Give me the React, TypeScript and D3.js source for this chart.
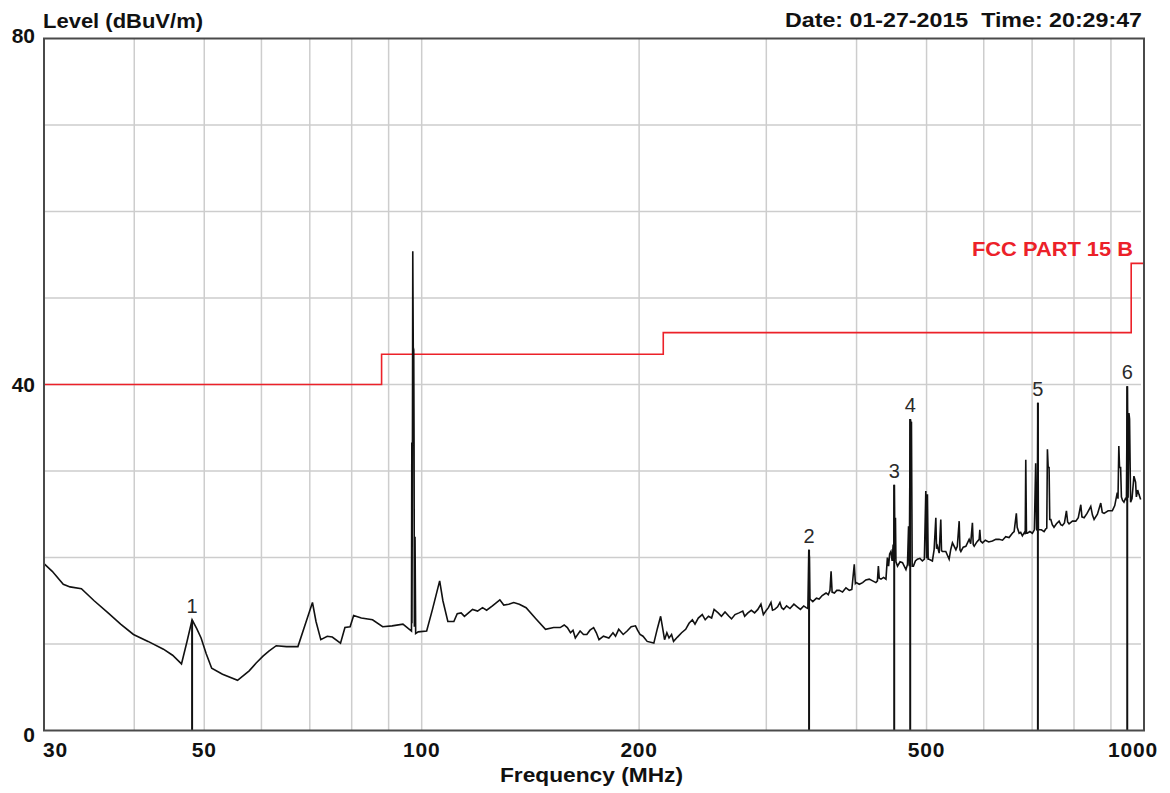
import React from "react";
import * as d3 from "d3";

// Measured spectrum: [frequency MHz, level dBuV/m]
const trace: [number, number][] = [
  [30, 19.3], [30.8, 18.4], [31.9, 16.9], [32.6, 16.6], [33.8, 16.4], [35.2, 15.0], [36.8, 13.6],
  [38.3, 12.3], [39.9, 11.1], [41.8, 10.3], [43.9, 9.4], [45.2, 8.7], [46.5, 7.7], [47.3, 10.2],
  [48.1, 12.8], [48.8, 11.8], [49.5, 10.7], [50.3, 8.9], [51.2, 7.2], [53.0, 6.5], [55.6, 5.8],
  [57.7, 6.9], [59.0, 7.8], [60.3, 8.6], [61.5, 9.2], [62.9, 9.8], [65.0, 9.7], [67.4, 9.7],
  [69.2, 12.6], [70.6, 14.8], [71.4, 12.6], [72.5, 10.5], [74.0, 10.9], [75.2, 10.8], [77.2, 10.1],
  [78.3, 11.9], [79.6, 12.0], [80.5, 13.3], [82.5, 13.0], [85.5, 12.8], [88.3, 12.0], [91.0, 12.1],
  [94.2, 12.3], [96.8, 11.5], [96.9, 33.3], [96.95, 12.4], [97.1, 33.0], [97.2, 55.4],
  [97.35, 44.3], [97.5, 44.0], [97.6, 33.4], [97.7, 12.0], [97.9, 22.4], [98.1, 11.2],
  [98.9, 11.4], [101.6, 11.5], [103.5, 14.0], [105.9, 17.3], [107.0, 15.0],
  [108.7, 12.6], [110.8, 12.6], [112.0, 13.5], [113.4, 13.6], [114.6, 13.2], [117.6, 14.0],
  [119.5, 13.8], [121.4, 14.2], [123.0, 13.9], [125.3, 14.4], [128.3, 15.1], [129.9, 14.5],
  [132.0, 14.6], [134.1, 14.8], [136.5, 14.6], [139.5, 14.2], [144.0, 12.9], [148.4, 11.7],
  [152.3, 11.9], [155.5, 11.9], [157.5, 12.2], [159.1, 11.9], [160.7, 11.3], [162.0, 11.6],
  [163.2, 10.7], [165.7, 11.5], [167.5, 11.1], [169.3, 11.1], [171.0, 11.6], [173.0, 11.9],
  [174.5, 11.3], [176.0, 10.5], [178.5, 10.9], [181.6, 10.7], [184.0, 11.3], [185.5, 10.9],
  [187.4, 11.7], [190.1, 11.1], [192.5, 11.5], [195.0, 12.0], [197.7, 12.1], [199.0, 11.6],
  [200.6, 11.1], [202.5, 10.9], [205.2, 10.3], [209.6, 10.1], [212.0, 11.8], [214.2, 13.2],
  [215.6, 11.8], [216.9, 10.5], [218.5, 11.3], [220.0, 10.7], [221.8, 11.1], [223.2, 10.3],
  [226.0, 10.8], [229.0, 11.3], [232.0, 11.7], [234.5, 12.4], [237.0, 12.8], [239.0, 12.3],
  [241.5, 13.0], [244.6, 13.4], [246.9, 12.8], [249.5, 13.2], [252.0, 13.0], [254.0, 14.0],
  [257.3, 13.6], [260.0, 13.2], [263.0, 13.7], [266.3, 13.2], [268.5, 12.9], [271.5, 13.4],
  [275.0, 13.6], [278.3, 13.8], [280.0, 13.2], [282.9, 13.6], [286.0, 13.9], [289.0, 13.6],
  [292.0, 14.0], [294.9, 14.6], [297.2, 13.4], [300.0, 13.9], [302.0, 14.2], [304.5, 14.8],
  [306.0, 13.9], [308.1, 14.0], [311.0, 14.3], [313.3, 14.8], [315.0, 14.2], [317.0, 14.0],
  [320.0, 14.4], [323.5, 14.1], [327.6, 14.6], [331.0, 14.3], [334.5, 14.0], [338.0, 14.4],
  [340.6, 14.2], [342.5, 14.1], [343.5, 20.9], [344.2, 20.0], [344.8, 15.2], [347.9, 14.9],
  [352.0, 15.3], [355.0, 15.2], [358.5, 15.6], [362.9, 15.9], [365.5, 15.7], [367.5, 16.2],
  [368.8, 18.4], [370.0, 16.0], [372.7, 15.9], [375.5, 16.2], [378.6, 16.2], [382.5, 16.0],
  [386.7, 16.5], [390.9, 16.2], [394.0, 16.3], [397.1, 19.2], [398.5, 17.0], [399.4, 17.1],
  [403.5, 16.9], [407.8, 17.1], [412.0, 17.4], [416.5, 17.5], [421.0, 17.3], [425.4, 17.1],
  [427.5, 17.3], [428.8, 19.0], [430.0, 17.6], [432.4, 17.5], [436.0, 17.7], [439.3, 17.5],
  [441.3, 20.0], [443.0, 19.0], [444.5, 20.4], [446.3, 20.7], [448.0, 19.6], [449.5, 21.5],
  [450.3, 19.6], [451.0, 28.4], [452.0, 19.8], [452.8, 24.6], [453.5, 19.5], [455.8, 19.0],
  [459.5, 19.5], [463.1, 19.4], [468.2, 18.6], [470.5, 19.2], [472.1, 23.6], [473.2, 19.0],
  [474.6, 36.0], [475.6, 35.6], [476.5, 35.6], [477.6, 19.0], [479.5, 19.0], [482.5, 19.6],
  [485.6, 19.8], [489.5, 19.9], [493.4, 19.6], [496.5, 19.8], [498.8, 27.7], [500.1, 19.9],
  [501.4, 27.3], [502.6, 19.8], [504.1, 19.8], [509.4, 19.6], [512.2, 20.9], [515.0, 24.6],
  [516.2, 21.0], [517.7, 21.3], [520.5, 20.5], [523.2, 24.4], [524.4, 20.8], [525.9, 20.7],
  [531.6, 20.7], [537.3, 19.8], [540.0, 20.9], [543.0, 21.7], [549.0, 20.9], [551.5, 21.3],
  [554.8, 24.2], [556.2, 20.9], [557.8, 20.7], [562.0, 21.2], [566.7, 21.3], [572.7, 22.1],
  [575.5, 21.6], [578.7, 24.0], [580.2, 21.5], [582.0, 21.3], [587.0, 21.8], [591.3, 22.1],
  [592.5, 23.2], [594.0, 21.9], [597.6, 21.7], [603.0, 22.0], [609.5, 21.8], [616.8, 21.9],
  [623.5, 22.1], [630.0, 22.1], [637.0, 22.0], [643.5, 22.4], [650.4, 22.3], [657.3, 22.8],
  [661.0, 23.0], [665.7, 25.1], [667.5, 23.5], [671.7, 22.8], [675.0, 22.9], [678.6, 22.5],
  [683.0, 22.9], [684.8, 22.7], [686.0, 31.3], [687.5, 22.8], [689.4, 22.8], [695.0, 23.0],
  [700.5, 22.8], [705.0, 23.2], [708.0, 30.9], [710.0, 23.3], [711.8, 23.1], [713.0, 37.9],
  [714.2, 23.3], [715.5, 23.2], [721.0, 23.2], [727.2, 23.0], [731.0, 23.3], [733.5, 23.4],
  [735.0, 32.5], [736.8, 30.4], [738.9, 30.4], [740.5, 24.4], [743.1, 24.4], [746.5, 23.8],
  [750.6, 23.5], [756.5, 23.9], [762.9, 24.2], [767.0, 23.8], [771.0, 23.7], [776.0, 24.0],
  [780.9, 25.4], [784.0, 24.1], [787.5, 23.9], [796.0, 24.2], [804.6, 24.2], [811.0, 24.6],
  [817.5, 26.1], [820.5, 24.7], [826.2, 24.6], [834.0, 25.1], [843.9, 25.9], [848.5, 24.9],
  [852.9, 24.4], [862.0, 25.0], [871.2, 26.3], [875.5, 25.2], [880.5, 25.1], [892.0, 25.4],
  [903.9, 25.4], [911.0, 26.0], [918.3, 27.5], [920.5, 26.8], [922.9, 32.9], [925.0, 30.4],
  [928.2, 30.4], [930.5, 27.0], [934.0, 26.6], [938.1, 26.4], [942.5, 26.8], [945.5, 26.7],
  [948.0, 39.8], [950.5, 26.9], [953.1, 36.7], [955.0, 36.0], [958.2, 26.4], [962.5, 26.8],
  [968.4, 29.4], [973.5, 28.7], [976.0, 27.0], [980.0, 27.8], [984.0, 27.3], [989.4, 26.7],
];

// Peak markers: [frequency MHz, level dBuV/m]
const markers: [number, number][] = [
  [48.1, 12.8], [343.8, 20.9], [451.0, 28.4], [474.6, 36.0], [713.0, 37.9], [948.0, 39.8],
];

// FCC Part 15 Class B limit: band edges (MHz) and levels (dBuV/m)
const limitEdges = [30, 88, 216, 960, 1000];
const limitLevels = [40, 43.5, 46, 54];

const xGrid = [40, 50, 60, 70, 80, 90, 100, 200, 300, 400, 500, 600, 700, 800, 900];
const yGrid = [10, 20, 30, 40, 50, 60, 70];
const xTickLabels = [30, 50, 100, 200, 500, 1000];
const yTickLabels = [0, 40, 80];

const W = 1170;
const H = 793;
const left = 44;
const right = 1144;
const top = 38.5;
const bottom = 730.5;

const boldFont = "'Liberation Sans', Arial, sans-serif";

export default function App() {
  const x = d3.scaleLog().domain([30, 1000]).range([left, right]);
  const y = d3.scaleLinear().domain([0, 80]).range([bottom, top]);

  const tracePath = d3
    .line<[number, number]>()
    .x((d) => x(d[0]))
    .y((d) => y(d[1]))(trace) as string;

  const limitPts: [number, number][] = limitLevels.map((lv, i) => [limitEdges[i], lv]);
  limitPts.push([limitEdges[limitEdges.length - 1], limitLevels[limitLevels.length - 1]]);
  const limitPath = d3
    .line<[number, number]>()
    .x((d) => x(d[0]))
    .y((d) => y(d[1]))
    .curve(d3.curveStepAfter)(limitPts) as string;

  return (
    <div style={{ position: "absolute", left: 0, top: 0 }}>
      <svg width={W} height={H} style={{ display: "block", background: "#fff" }}>
        {/* grid */}
        <g stroke="#cdcdcd" strokeWidth={1.5}>
          {xGrid.map((f) => (
            <line key={"gx" + f} x1={x(f)} x2={x(f)} y1={top} y2={bottom} />
          ))}
          {yGrid.map((v) => (
            <line key={"gy" + v} x1={left} x2={right - 3} y1={y(v)} y2={y(v)} />
          ))}
        </g>

        {/* limit line */}
        <path d={limitPath} fill="none" stroke="#ec2129" strokeWidth={1.6} />

        {/* marker stems */}
        <g stroke="#111" strokeWidth={2}>
          {markers.map(([f, v], i) => (
            <line key={"m" + i} x1={x(f)} x2={x(f)} y1={bottom} y2={y(v)} />
          ))}
        </g>

        {/* spectrum trace */}
        <path d={tracePath} fill="none" stroke="#111" strokeWidth={1.6} strokeLinejoin="miter" />

        {/* marker numbers */}
        <g fontFamily={boldFont} fontSize={20} fill="#2a2a2a" textAnchor="middle">
          {markers.map(([f, v], i) => (
            <text key={"ml" + i} x={x(f)} y={y(v) - 7}>
              {i + 1}
            </text>
          ))}
        </g>

        {/* frame */}
        <rect
          x={left}
          y={top}
          width={right - left}
          height={bottom - top}
          fill="none"
          stroke="#4a4a4a"
          strokeWidth={2}
        />

        {/* y tick labels */}
        <g fontFamily={boldFont} fontWeight="bold" fontSize={21} fill="#111" textAnchor="end">
          {yTickLabels.map((v, i) => {
            const dy = i === 0 ? 11.5 : i === yTickLabels.length - 1 ? 4.5 : 7.5;
            return (
              <text key={"yl" + v} x={35} y={y(v) + dy}>
                {v}
              </text>
            );
          })}
        </g>

        {/* x tick labels */}
        <g fontFamily={boldFont} fontWeight="bold" fontSize={21} fill="#111">
          {xTickLabels.map((f, i) => {
            const first = i === 0;
            const last = i === xTickLabels.length - 1;
            const anchor = first ? "start" : last ? "end" : "middle";
            const px = first ? x(f) - 1 : last ? x(f) + 14 : x(f);
            return (
              <text key={"xl" + f} x={px} y={757} textAnchor={anchor} letterSpacing={0.8}>
                {f}
              </text>
            );
          })}
        </g>

        {/* titles */}
        <g fontFamily={boldFont} fontWeight="bold" fontSize={21} fill="#111">
          <text x={43} y={28} textLength={160} lengthAdjust="spacingAndGlyphs">
            Level (dBuV/m)
          </text>
          <text x={785} y={27} textLength={357} lengthAdjust="spacingAndGlyphs" xmlSpace="preserve">
            Date: 01-27-2015  Time: 20:29:47
          </text>
          <text x={500} y={782} textLength={183} lengthAdjust="spacingAndGlyphs">
            Frequency (MHz)
          </text>
        </g>

        <text
          x={972}
          y={256}
          fontFamily={boldFont}
          fontWeight="bold"
          fontSize={21}
          fill="#ec2129"
          textLength={161}
          lengthAdjust="spacingAndGlyphs"
          xmlSpace="preserve"
        >
          FCC PART 15 B
        </text>
      </svg>
    </div>
  );
}
